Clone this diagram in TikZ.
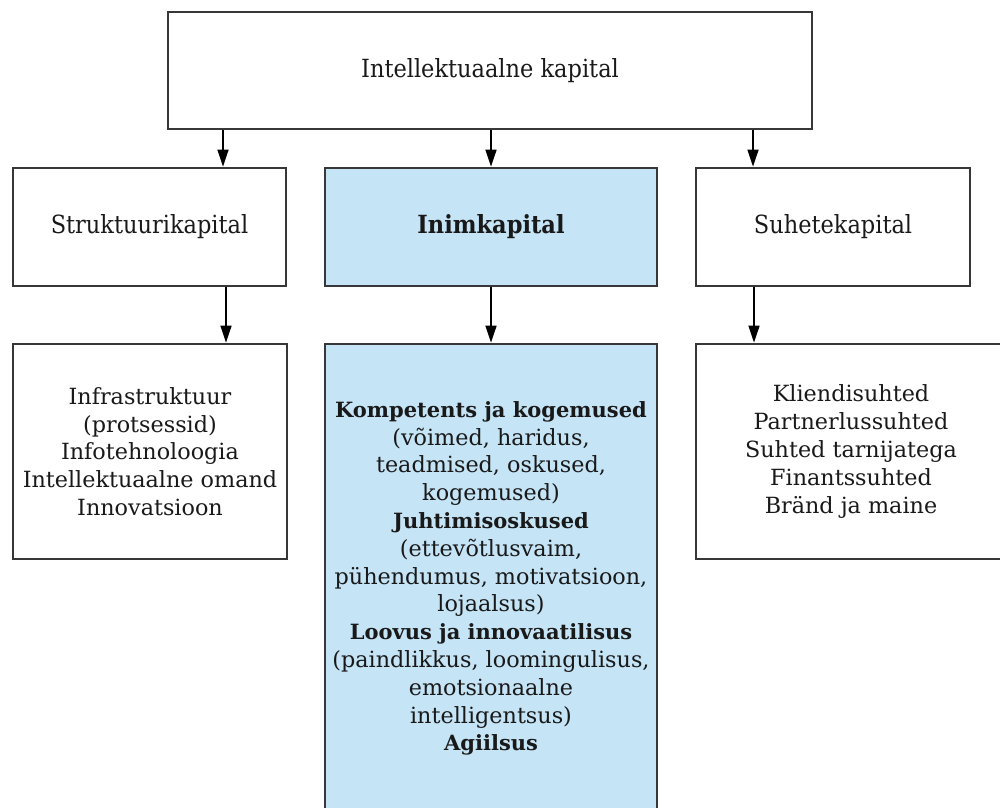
\documentclass[tikz,border=0pt]{standalone}
\usepackage{fontspec}
\setmainfont{DejaVu Serif}
\newfontfamily\condfont{DejaVu Serif Condensed}
\usetikzlibrary{arrows.meta}
\definecolor{boxline}{RGB}{55,55,55}
\definecolor{humanfill}{RGB}{197,228,246}
\definecolor{ink}{RGB}{25,25,25}
% bold headings inside the list boxes
\newcommand{\hd}[1]{{\fontsize{21}{27.8}\selectfont\bfseries #1}}
\tikzset{
  x=1pt, y=-1pt,
  boxbase/.style={draw=boxline, line width=2.8pt, inner sep=0pt, align=center, text=ink},
  headbox/.style={boxbase, font=\condfont\fontsize{25}{28}\selectfont},
  listbox/.style={boxbase, font=\fontsize{22.3}{27.8}\selectfont},
  human/.style={fill=humanfill},
  arr/.style={draw=black, line width=1.6pt, -{Triangle[length=17pt,width=11pt]}}
}
\begin{document}
\begin{tikzpicture}
\useasboundingbox (0,0) rectangle (1000,807);
% top level
\node[headbox, minimum width=644, minimum height=117] (ic) at (490,70.5) {Intellektuaalne kapital};
% second level
\node[headbox, minimum width=273, minimum height=118] (sk) at (149.5,227) {Struktuurikapital};
\node[headbox, human, minimum width=332, minimum height=118] (ik) at (491,227) {\bfseries Inimkapital};
\node[headbox, minimum width=274, minimum height=118] (rk) at (833,227) {Suhetekapital};
% third level
\node[listbox, minimum width=274, minimum height=215] (sl) at (150,451.5) {Infrastruktuur\\(protsessid)\\Infotehnoloogia\\Intellektuaalne omand\\Innovatsioon};
\node[listbox, human, minimum width=332, minimum height=469] (il) at (491,578.5) {\hd{Kompetents ja kogemused}\\(võimed, haridus,\\teadmised, oskused,\\kogemused)\\\hd{Juhtimisoskused}\\(ettevõtlusvaim,\\pühendumus, motivatsioon,\\lojaalsus)\\\hd{Loovus ja innovaatilisus}\\(paindlikkus, loomingulisus,\\emotsionaalne\\intelligentsus)\\\hd{Agiilsus}};
\node[listbox, minimum width=310, minimum height=215] (rl) at (851,451.5) {Kliendisuhted\\Partnerlussuhted\\Suhted tarnijatega\\Finantssuhted\\Bränd ja maine};
% arrow columns
\coordinate (cl1) at (223,0);
\coordinate (cl2) at (226,0);
\coordinate (cm) at (491,0);
\coordinate (cr1) at (753,0);
\coordinate (cr2) at (754,0);
\draw[arr] (ic.south -| cl1) -- (sk.north -| cl1);
\draw[arr] (ic.south -| cm) -- (ik.north -| cm);
\draw[arr] (ic.south -| cr1) -- (rk.north -| cr1);
\draw[arr] (sk.south -| cl2) -- (sl.north -| cl2);
\draw[arr] (ik.south -| cm) -- (il.north -| cm);
\draw[arr] (rk.south -| cr2) -- (rl.north -| cr2);
\end{tikzpicture}
\end{document}
